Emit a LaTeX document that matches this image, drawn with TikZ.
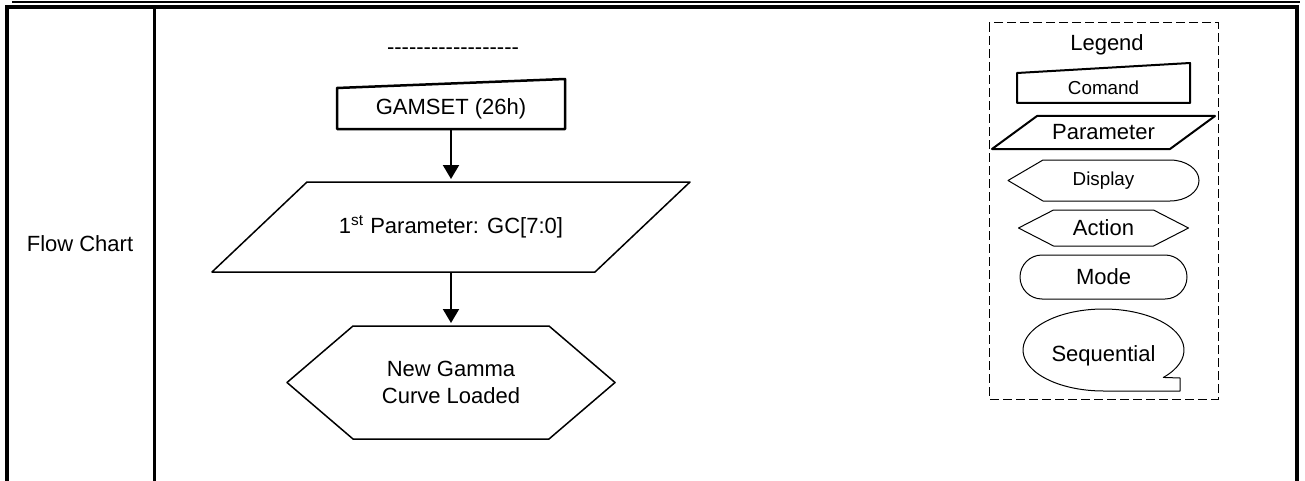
\documentclass[tikz,border=0pt]{standalone}
\usepackage{fontspec}
\setmainfont{Liberation Sans}
\usetikzlibrary{positioning, arrows.meta, shapes.geometric, shapes.misc, calc}

\begin{document}
\begin{tikzpicture}[
    x=0.5pt, y=-0.5pt,
    txt/.style={
        font=\fontsize{11pt}{13.5pt}\selectfont,
        align=center,
        inner sep=0pt,
        outer sep=0pt
    },
    smalltxt/.style={
        txt,
        font=\fontsize{9.4pt}{11pt}\selectfont
    },
    frame/.style={line width=2pt},
    heavy/.style={line width=1.25pt, line join=round},
    plain/.style={line width=0.75pt, line join=round},
    thin/.style={line width=0.5pt, line join=round},
    legendbox/.style={line width=0.5pt, dash pattern=on 4.5pt off 2pt},
    arr/.style={
        -{Triangle[length=7pt, width=8pt]},
        line width=1pt,
        shorten >=1.5pt
    }
]
\useasboundingbox (0,0) rectangle (1305,481);

% Table frame
\draw[line width=0.85pt] (12,2) -- (1300,2);
\draw[frame] (7,481) -- (7,7.3) -- (1297,7.3) -- (1297,481);
\draw[line width=1.2pt] (154.5,7.3) -- (154.5,481);
\node[txt] (rowname) at (80,244) {Flow Chart};

% Main vertical flow
\node[txt] (dashes) at (453,51) {\foreach \i in {1,...,18}{-\kern0pt}};
\node[txt, minimum width=114pt, minimum height=20.5pt] (cmd) at (451,108.5) {GAMSET (26h)};
\node[txt, minimum width=239pt, minimum height=45pt, below=26.5pt of cmd] (par)
{1\textsuperscript{st} Parameter: GC[7:0]};
\node[txt, minimum width=164pt, minimum height=56.5pt, below=27pt of par] (hex)
{New Gamma\\Curve Loaded};

% Outlines
\draw[heavy] (cmd.south west) -- (cmd.north west) -- ([yshift=4.5pt]cmd.north east)
    -- (cmd.south east) -- cycle;
\draw[plain] (par.south west) -- ([xshift=47.5pt]par.north west) -- (par.north east)
    -- ([xshift=-47.5pt]par.south east) -- cycle;
\draw[plain] (hex.west) -- ([xshift=33pt]hex.north west) -- ([xshift=-33pt]hex.north east)
    -- (hex.east) -- ([xshift=-33pt]hex.south east) -- ([xshift=33pt]hex.south west) -- cycle;

% Connections
\draw[arr] (cmd) -- (par);
\draw[arr] (par) -- (hex);

% Legend
\draw[legendbox] (989,23) rectangle (1218,399);
\node[txt] (legend) at (1107,45) {Legend};
\node[smalltxt, minimum width=86.5pt, minimum height=15pt] (lcmd) at (1103.5,88) {Comand};
\node[txt, minimum width=111.5pt, minimum height=16.5pt, below=6.5pt of lcmd] (lpar) {Parameter};
\node[smalltxt, minimum width=95.5pt, minimum height=20.5pt, below=5.5pt of lpar] (ldisp) {Display};
\node[txt, minimum width=85pt, minimum height=18pt, below=4.5pt of ldisp] (lact) {Action};
\node[txt, rounded rectangle, thin, draw, minimum width=83.5pt, minimum height=22pt,
    below=4.5pt of lact] (lmode) {Mode};
\node[txt, ellipse, minimum width=80.5pt, minimum height=41pt, below=5pt of lmode] (lseq)
{\raisebox{-5.5pt}[0pt][0pt]{Sequential}};

\draw[line width=1pt, line join=round] (lcmd.south west) -- (lcmd.north west)
    -- ([yshift=5pt]lcmd.north east) -- (lcmd.south east) -- cycle;
\draw[line width=1pt, line join=round] (lpar.south west) -- ([xshift=22.5pt]lpar.north west)
    -- (lpar.north east) -- ([xshift=-22.5pt]lpar.south east) -- cycle;
\draw[thin] (ldisp.west) -- ([xshift=17.5pt]ldisp.north west) -- ([xshift=-14.5pt]ldisp.north east)
    arc[start angle=90, end angle=-90, x radius=14.5pt, y radius=10.25pt]
    -- ([xshift=17.5pt]ldisp.south west) -- cycle;
\draw[thin] (lact.west) -- ([xshift=17.5pt]lact.north west) -- ([xshift=-17.5pt]lact.north east)
    -- (lact.east) -- ([xshift=-17.5pt]lact.south east) -- ([xshift=17.5pt]lact.south west) -- cycle;
\draw[thin] ($(lseq.center)+(-42:40.25pt and 20.5pt)$)
    arc[start angle=-42, end angle=270, x radius=40.25pt, y radius=20.5pt]
    -- ++(38.25pt,0) -- ++(0,6.5pt) -- cycle;

\end{tikzpicture}
\end{document}
